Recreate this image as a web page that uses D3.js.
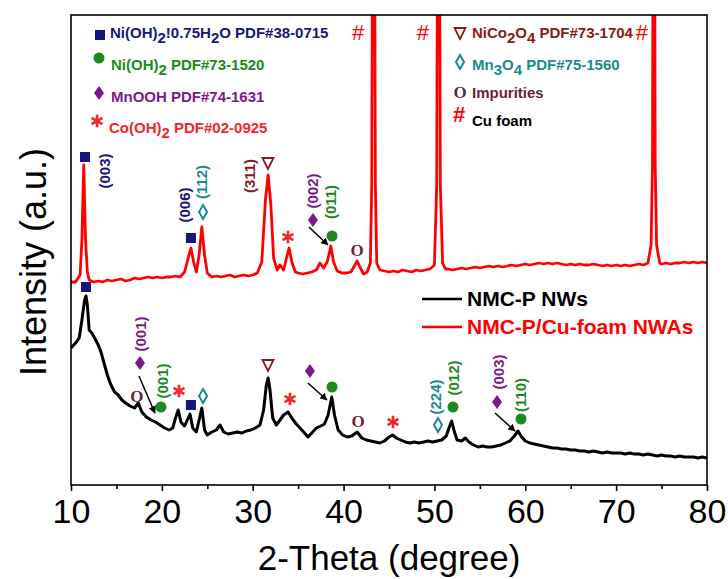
<!DOCTYPE html>
<meta charset="utf-8">
<style>
    body { margin: 0; background: #fff; }
    svg { display: block; font-family: "Liberation Sans", Arial, sans-serif; }
</style>
<svg id="chart" width="728" height="579"></svg>
<script src="https://d3js.org/d3.v7.min.js"></script>
<script>
    // NMC-P NWs (black) : 2-theta / intensity (a.u.)
    const blackX = [10.0, 10.3, 10.6, 10.9, 11.2, 11.5, 11.65, 11.8, 12.0, 12.3, 12.6, 13.0, 13.3, 13.6, 14.0, 14.4, 14.8, 15.2, 15.6, 16.0,
        16.5, 17.0, 17.4, 17.8, 18.3, 18.8, 19.3, 19.8, 20.3, 20.8, 21.2, 21.5, 21.8, 22.1, 22.5, 22.8, 23.1, 23.4, 23.8, 24.1,
        24.4, 24.7, 25.0, 25.5, 26.0, 26.4, 26.8, 27.3, 27.8, 28.3, 28.8, 29.3, 29.8, 30.3, 30.8, 31.2, 31.5, 31.7, 31.9, 32.2,
        32.6, 33.0, 33.4, 33.9, 34.3, 34.7, 35.2, 35.7, 36.1, 36.6, 37.0, 37.5, 37.9, 38.3, 38.7, 39.0, 39.4, 39.9, 40.4, 40.9,
        41.5, 42.0, 42.5, 43.0, 43.5, 44.0, 44.5, 45.0, 45.4, 45.8, 46.3, 46.8, 47.3, 47.8, 48.3, 48.8, 49.3, 49.8, 50.3, 50.8,
        51.3, 51.6, 51.9, 52.2, 52.5, 53.0, 53.4, 53.8, 54.3, 54.8, 55.3, 55.8, 56.3, 56.8, 57.3, 57.8, 58.3, 58.8, 59.2, 59.6,
        60.0, 60.5, 61.0, 61.5, 62.0, 62.5, 63.0, 63.5, 64.0, 64.5, 65.0, 65.5, 66.0, 66.5, 67.0, 67.5, 68.0, 68.5, 69.0, 69.5,
        70.0, 70.5, 71.0, 71.5, 72.0, 72.5, 73.0, 73.5, 74.0, 74.5, 75.0, 75.5, 76.0, 76.5, 77.0, 77.5, 78.0, 78.5, 79.0, 79.5, 80.0];
    const blackY = [137, 140, 143, 147, 165, 185, 189, 180, 155, 152, 147, 140, 133, 123, 110, 100, 93, 90, 85, 82,
        79, 77, 82, 73, 68, 65, 63, 60, 57, 55, 57, 67, 75, 63, 59, 65, 71, 57, 53, 65,
        77, 55, 50, 53, 55, 60, 53, 51, 52, 53, 52, 54, 55, 57, 60, 75, 100, 107, 95, 67,
        60, 65, 70, 73, 67, 62, 57, 52, 48, 53, 57, 59, 61, 70, 88, 70, 55, 50, 48, 49,
        53, 47, 45, 44, 43, 42, 44, 48, 50, 47, 45, 43, 42, 43, 42, 43, 44, 43, 44, 45,
        49, 57, 64, 53, 45, 44, 47, 43, 40, 38, 39, 38, 38, 39, 40, 42, 44, 49, 54, 48,
        44, 42, 41, 40, 39, 38, 37, 37, 36, 36, 35, 35, 34, 34, 33, 34, 33, 32, 33, 32,
        32, 32, 31, 32, 31, 31, 30, 31, 30, 29, 30, 29, 29, 28, 29, 28, 28, 28, 27, 28, 27];

    // NMC-P/Cu-foam NWAs (red)
    const redX = [10.0, 10.5, 11.0, 11.2, 11.4, 11.6, 11.8, 12.0, 12.5, 13.0, 13.5, 14.0, 14.5, 15.0, 15.5, 16.0, 16.5, 17.0, 17.5, 18.0,
        18.5, 19.0, 19.5, 20.0, 20.5, 21.0, 21.5, 22.0, 22.5, 22.9, 23.2, 23.5, 23.8, 24.1, 24.4, 24.7, 25.0, 25.5, 26.0, 26.5,
        27.0, 27.5, 28.0, 28.5, 29.0, 29.5, 30.0, 30.5, 31.0, 31.4, 31.7, 32.0, 32.3, 32.7, 33.0, 33.4, 33.8, 34.0, 34.3, 34.7,
        35.0, 35.5, 36.0, 36.5, 37.0, 37.4, 37.8, 38.2, 38.6, 38.9, 39.3, 39.8, 40.3, 40.8, 41.2, 41.5, 41.8, 42.2, 42.6, 42.95,
        43.1, 43.3, 43.5, 43.65, 44.0, 44.5, 45.0, 45.5, 46.0, 46.5, 47.0, 47.5, 48.0, 48.5, 49.0, 49.5, 50.0, 50.25, 50.45, 50.65,
        50.9, 51.2, 51.5, 52.0, 52.5, 53.0, 53.5, 54.0, 54.5, 55.0, 55.5, 56.0, 56.5, 57.0, 57.5, 58.0, 58.5, 59.0, 59.5, 60.0,
        60.5, 61.0, 61.5, 62.0, 62.5, 63.0, 63.5, 64.0, 64.5, 65.0, 65.5, 66.0, 66.5, 67.0, 67.5, 68.0, 68.5, 69.0, 69.5, 70.0,
        70.5, 71.0, 71.5, 72.0, 72.5, 73.0, 73.5, 73.85, 74.0, 74.15, 74.3, 74.45, 74.8, 75.0, 75.5, 76.0, 76.5, 77.0, 77.5, 78.0,
        78.5, 79.0, 79.5, 80.0];
    const redY = [203, 203, 210, 245, 320, 245, 213, 205, 203, 204, 203, 205, 204, 205, 206, 204, 205, 207, 206, 207,
        208, 207, 208, 207, 208, 208, 209, 208, 213, 227, 237, 223, 213, 230, 258, 230, 212, 208, 209, 208,
        209, 210, 208, 209, 210, 209, 210, 212, 223, 285, 310, 280, 227, 215, 220, 215, 230, 237, 223, 213,
        212, 211, 212, 213, 215, 222, 217, 223, 239, 223, 214, 212, 212, 213, 219, 224, 218, 211, 213, 222,
        300, 900, 300, 222, 215, 214, 213, 214, 213, 215, 214, 213, 215, 214, 215, 216, 220, 300, 900, 300,
        222, 216, 216, 215, 216, 217, 216, 217, 218, 217, 218, 219, 218, 219, 218, 219, 220, 219, 220, 221,
        220, 221, 222, 221, 222, 221, 222, 221, 220, 221, 220, 221, 220, 220, 221, 220, 219, 220, 219, 220,
        219, 220, 219, 220, 221, 220, 222, 240, 320, 900, 320, 240, 222, 221, 222, 221, 222, 222, 223, 222,
        223, 222, 223, 222];

    const xTicks = [10, 20, 30, 40, 50, 60, 70, 80];
    const xMinor = [15, 25, 35, 45, 55, 65, 75];

    // phase symbols placed on the patterns: [shape, 2-theta, intensity]
    const markers = [
        ["square", 11.54, 328], ["square", 23.2, 247], ["diamondOpen", 24.53, 273], ["triangle", 31.68, 322],
        ["star", 33.88, 248], ["diamond", 36.63, 265], ["circle", 38.73, 249], ["o", 41.48, 235],
        ["hash", 41.59, 452], ["hash", 48.74, 452], ["hash", 72.84, 452],
        ["square", 11.65, 198], ["diamond", 17.59, 122], ["o", 17.26, 89], ["circle", 19.9, 78],
        ["star", 21.89, 94], ["square", 23.2, 80], ["diamondOpen", 24.53, 89], ["triangle", 31.68, 120],
        ["star", 34.1, 86], ["diamond", 36.3, 114], ["circle", 38.73, 98], ["o", 41.59, 64],
        ["star", 45.44, 63], ["diamondOpen", 50.39, 60], ["circle", 52.04, 78], ["diamond", 56.89, 83],
        ["circle", 59.53, 66]
    ];
    // Miller indices: [text, phase, 2-theta, intensity]
    const hkl = [
        ["(003)", "ni075", 13.74, 314], ["(006)", "ni075", 22.55, 280], ["(112)", "mn3o4", 24.42, 303],
        ["(311)", "nico", 29.7, 309], ["(002)", "mnooh", 36.63, 294], ["(011)", "nioh", 38.62, 283],
        ["(001)", "mnooh", 17.7, 151], ["(001)", "nioh", 20.13, 104], ["(224)", "mn3o4", 50.17, 88],
        ["(012)", "nioh", 52.15, 107], ["(003)", "mnooh", 57.1, 113], ["(110)", "nioh", 59.53, 90]
    ];
    const arrows = [[36.19, 258, 38.28, 240], [17.48, 109, 19.24, 72], [36.08, 102, 38.17, 85], [56.67, 72, 58.87, 54]];

    const colors = {
        ni075: "#16167e", nioh: "#1a8a1a", mnooh: "#7a1a8a", co: "#f0282d",
        nico: "#8a1a1a", mn3o4: "#1a8a8a", imp: "#6e1f3c", cu: "#ff0000"
    };
    const shapeColor = {
        square: colors.ni075, circle: colors.nioh, diamond: colors.mnooh, star: colors.co,
        triangle: colors.nico, diamondOpen: colors.mn3o4, o: colors.imp, hash: colors.cu
    };

    const W = 728, H = 579;
    const margin = {top: 15, right: 21, bottom: 94, left: 71};
    const svg = d3.select("#chart");

    const x = d3.scaleLinear().domain([10, 80]).range([margin.left, W - margin.right]);
    const y = d3.scaleLinear().domain([0, 470]).range([H - margin.bottom, margin.top]);

    svg.append("clipPath").attr("id", "plot")
        .append("rect")
        .attr("x", margin.left).attr("y", margin.top)
        .attr("width", x(80) - x(10)).attr("height", y(0) - y(470));

    const line = d3.line().x(d => x(d[0])).y(d => y(d[1]));

    svg.append("path")
        .datum(d3.zip(blackX, blackY))
        .attr("clip-path", "url(#plot)")
        .attr("fill", "none").attr("stroke", "#000").attr("stroke-width", 3)
        .attr("stroke-linejoin", "round")
        .attr("d", line);

    svg.append("path")
        .datum(d3.zip(redX, redY))
        .attr("clip-path", "url(#plot)")
        .attr("fill", "none").attr("stroke", "#ff0000").attr("stroke-width", 2.8)
        .attr("stroke-linejoin", "round")
        .attr("d", line);

    // frame
    svg.append("rect")
        .attr("x", x(10)).attr("y", y(470))
        .attr("width", x(80) - x(10)).attr("height", y(0) - y(470))
        .attr("fill", "none").attr("stroke", "#000").attr("stroke-width", 1.6);

    // bottom axis
    const gx = svg.append("g").attr("transform", `translate(0,${y(0)})`)
        .call(d3.axisBottom(x).tickValues(xTicks).tickSize(6).tickPadding(8).tickFormat(d3.format("d")));
    gx.select(".domain").remove();
    gx.selectAll(".tick line").attr("stroke-width", 1.6);
    gx.selectAll("text").attr("font-size", 34).attr("fill", "#000")
        .attr("font-family", "'Liberation Sans', Arial, sans-serif");
    svg.append("g").attr("transform", `translate(0,${y(0)})`)
        .call(d3.axisBottom(x).tickValues(xMinor).tickSize(4).tickFormat(""))
        .call(g => g.select(".domain").remove())
        .selectAll(".tick line").attr("stroke-width", 1.6);

    svg.append("text")
        .attr("x", (x(10) + x(80)) / 2).attr("y", 570)
        .attr("text-anchor", "middle").attr("font-size", 35)
        .text("2-Theta (degree)");

    svg.append("text")
        .attr("transform", "translate(46,262) rotate(-90)")
        .attr("text-anchor", "middle").attr("font-size", 36)
        .text("Intensity (a.u.)");

    // symbol drawing
    const asterisk = d3.symbol(d3.symbolAsterisk, 110)();
    function drawShape(g, shape, px, py) {
        const c = shapeColor[shape];
        if (shape === "square") {
            g.append("rect").attr("x", px - 5).attr("y", py - 5).attr("width", 10).attr("height", 10).attr("fill", c);
        } else if (shape === "circle") {
            g.append("circle").attr("cx", px).attr("cy", py).attr("r", 5.5).attr("fill", c);
        } else if (shape === "diamond") {
            g.append("path").attr("transform", `translate(${px},${py})`)
                .attr("d", "M0,-7L5,0L0,7L-5,0Z").attr("fill", c);
        } else if (shape === "diamondOpen") {
            g.append("path").attr("transform", `translate(${px},${py})`)
                .attr("d", "M0,-7L4,0L0,7L-4,0Z").attr("fill", "none").attr("stroke", c).attr("stroke-width", 2);
        } else if (shape === "triangle") {
            g.append("path").attr("transform", `translate(${px},${py})`)
                .attr("d", "M-5.5,-5L5.5,-5L0,6Z").attr("fill", "none").attr("stroke", c).attr("stroke-width", 1.8);
        } else if (shape === "star") {
            g.append("path").attr("transform", `translate(${px},${py})`)
                .attr("d", asterisk).attr("fill", "none").attr("stroke", c).attr("stroke-width", 2.6);
        } else if (shape === "o") {
            g.append("text").attr("x", px).attr("y", py + 6).attr("text-anchor", "middle")
                .attr("font-family", "'Liberation Serif', serif").attr("font-weight", "bold")
                .attr("font-size", 17).attr("fill", c).text("O");
        } else if (shape === "hash") {
            g.append("text").attr("x", px).attr("y", py + 7).attr("text-anchor", "middle")
                .attr("font-size", 22).attr("fill", c).text("#");
        }
    }

    const gm = svg.append("g");
    markers.forEach(m => drawShape(gm, m[0], x(m[1]), y(m[2])));

    svg.append("g").selectAll("text").data(hkl).join("text")
        .attr("transform", d => `translate(${x(d[2]) + 5},${y(d[3])}) rotate(-90)`)
        .attr("text-anchor", "middle")
        .attr("font-size", 15).attr("font-weight", "bold")
        .attr("fill", d => colors[d[1]])
        .text(d => d[0]);

    svg.append("defs").append("marker")
        .attr("id", "arrowhead").attr("viewBox", "0 0 10 10")
        .attr("refX", 9).attr("refY", 5)
        .attr("markerWidth", 5).attr("markerHeight", 5)
        .attr("orient", "auto")
        .append("path").attr("d", "M0,0L10,5L0,10Z").attr("fill", "#000");

    svg.append("g").selectAll("line").data(arrows).join("line")
        .attr("x1", d => x(d[0])).attr("y1", d => y(d[1]))
        .attr("x2", d => x(d[2])).attr("y2", d => y(d[3]))
        .attr("stroke", "#000").attr("stroke-width", 1.5)
        .attr("marker-end", "url(#arrowhead)");

    // phase legend; parts flagged 1 are subscripts
    const legend = svg.append("g").attr("font-weight", "bold").attr("font-size", 15);
    function legendText(px, py, color, parts) {
        const t = legend.append("text").attr("x", px).attr("y", py).attr("fill", color);
        let low = false;
        parts.forEach(p => {
            const sub = !!p[1];
            const span = t.append("tspan").text(p[0]);
            if (sub && !low) span.attr("dy", 5);
            if (!sub && low) span.attr("dy", -5);
            low = sub;
        });
    }
    drawShape(legend, "square", 100, 35);
    legendText(110, 38, colors.ni075, [["Ni(OH)"], ["2", 1], ["!0.75H"], ["2", 1], ["O PDF#38-0715"]]);
    drawShape(legend, "circle", 99, 58);
    legendText(111, 70, colors.nioh, [["Ni(OH)"], ["2", 1], [" PDF#73-1520"]]);
    drawShape(legend, "diamond", 99, 93);
    legendText(111, 102, colors.mnooh, [["MnOOH PDF#74-1631"]]);
    drawShape(legend, "star", 97, 121);
    legendText(109, 133, colors.co, [["Co(OH)"], ["2", 1], [" PDF#02-0925"]]);

    drawShape(legend, "triangle", 460, 33);
    legendText(472, 38, colors.nico, [["NiCo"], ["2", 1], ["O"], ["4", 1], [" PDF#73-1704"]]);
    drawShape(legend, "diamondOpen", 460, 62);
    legendText(472, 70, colors.mn3o4, [["Mn"], ["3", 1], ["O"], ["4", 1], [" PDF#75-1560"]]);
    drawShape(legend, "o", 460, 92);
    legendText(472, 98, colors.imp, [["Impurities"]]);
    drawShape(legend, "hash", 459, 115);
    legendText(472, 126, "#000", [["Cu foam"]]);

    // series legend
    const series = [["NMC-P NWs", "#000"], ["NMC-P/Cu-foam NWAs", "#ff0000"]];
    const sl = svg.append("g");
    series.forEach((s, i) => {
        const yy = 299 + i * 28;
        sl.append("line").attr("x1", 422).attr("x2", 462).attr("y1", yy).attr("y2", yy)
            .attr("stroke", s[1]).attr("stroke-width", 2.6);
        sl.append("text").attr("x", 467).attr("y", yy + 7)
            .attr("font-size", 21).attr("font-weight", "bold").attr("fill", s[1]).text(s[0]);
    });
</script>
